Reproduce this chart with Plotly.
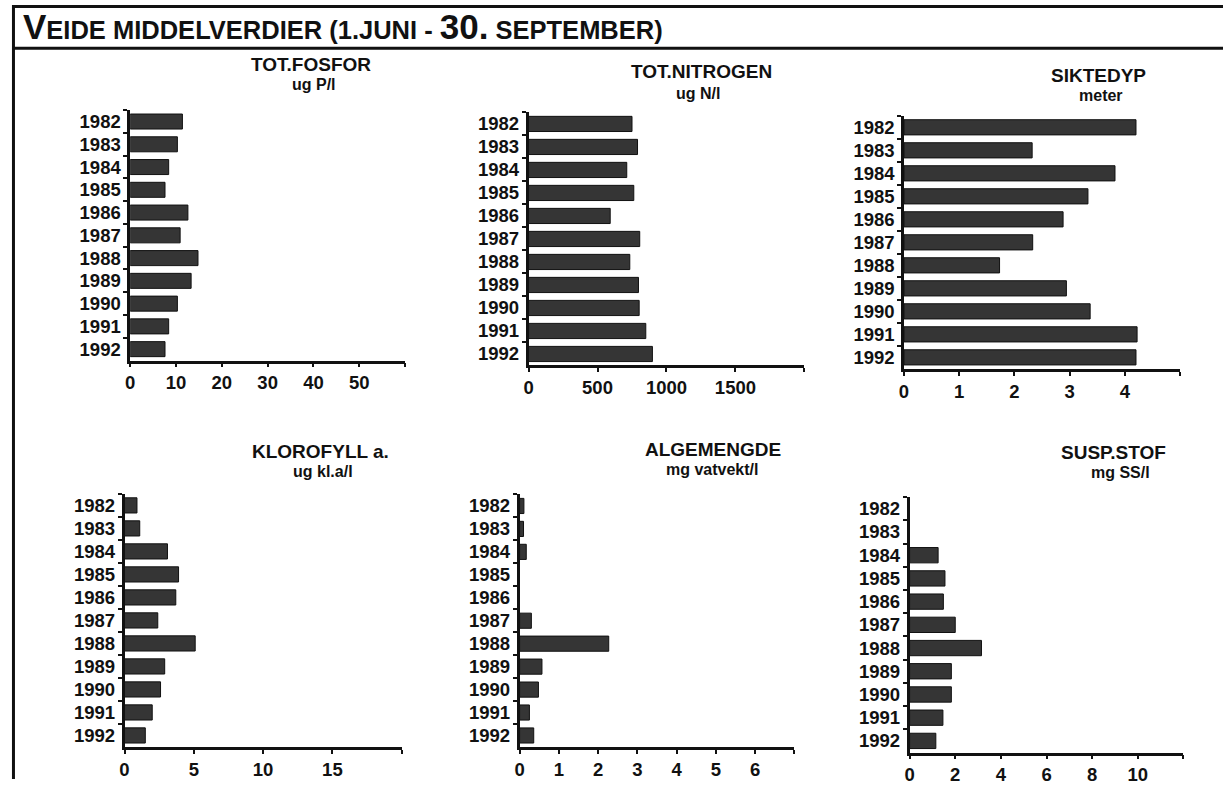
import plotly.graph_objects as go

# Measured summer means (1 June - 30 September), one value per year
years = ["1982", "1983", "1984", "1985", "1986", "1987", "1988", "1989", "1990", "1991", "1992"]

tot_fosfor = [11.4, 10.3, 8.4, 7.6, 12.6, 10.9, 14.8, 13.3, 10.3, 8.4, 7.6]          # ug P/l
tot_nitrogen = [750, 790, 712, 763, 592, 806, 734, 797, 802, 850, 898]              # ug N/l
siktedyp = [4.2, 2.32, 3.82, 3.33, 2.88, 2.33, 1.73, 2.94, 3.37, 4.22, 4.2]         # meter
klorofyll = [0.9, 1.1, 3.1, 3.9, 3.7, 2.4, 5.1, 2.9, 2.6, 2.0, 1.5]                 # ug kl.a/l
algemengde = [0.11, 0.1, 0.17, None, None, 0.3, 2.27, 0.57, 0.48, 0.25, 0.36]       # mg vatvekt/l
susp_stof = [None, None, 1.25, 1.55, 1.48, 2.0, 3.15, 1.83, 1.83, 1.46, 1.15]       # mg SS/l

titles = ["TOT.FOSFOR", "TOT.NITROGEN", "SIKTEDYP", "KLOROFYLL a.", "ALGEMENGDE", "SUSP.STOF"]
units = ["ug P/l", "ug N/l", "meter", "ug kl.a/l", "mg vatvekt/l", "mg SS/l"]
series = [tot_fosfor, tot_nitrogen, siktedyp, klorofyll, algemengde, susp_stof]

x_ticks = [
    [0, 10, 20, 30, 40, 50, 60],
    [0, 500, 1000, 1500, 2000],
    [0, 1, 2, 3, 4, 5],
    [0, 5, 10, 15, 20],
    [0, 1, 2, 3, 4, 5, 6, 7],
    [0, 2, 4, 6, 8, 10, 12],
]

W, H = 1223, 785

# pixel boxes of each plot area: (left, right, top, bottom)
boxes = [
    (125.7, 401.7, 111.0, 363.3),
    (525.7, 802.7, 113.3, 368.3),
    (902.7, 1180.0, 116.7, 371.7),
    (120.0, 398.3, 497.7, 752.7),
    (516.7, 792.7, 498.3, 752.7),
    (908.3, 1183.3, 501.0, 758.3),
]
# title positions in pixels: (x1, y1, x2, y2)
title_pos = [
    (307, 65, 310, 85),
    (699, 72, 696, 94),
    (1098, 76, 1101, 96),
    (317, 455, 319, 475),
    (711, 453, 710, 473),
    (1113, 456, 1120, 476),
]

FONT = "Liberation Sans"
INK = "#111111"
fig = go.Figure()

for i in range(6):
    n = i + 1
    xa = "x" if n == 1 else f"x{n}"
    ya = "y" if n == 1 else f"y{n}"
    fig.add_trace(go.Bar(
        x=series[i], y=years, orientation="h",
        xaxis=xa, yaxis=ya,
        marker=dict(color="#353535", line=dict(color=INK, width=1)),
        showlegend=False,
    ))
    l, r, t, b = boxes[i]
    tv = x_ticks[i]
    tt = [str(v) for v in tv[:-1]] + [""]
    tick_font = dict(family=FONT, size=18.5, color=INK, weight="bold")
    fig.update_layout(**{
        f"xaxis{'' if n == 1 else n}": dict(
            domain=[l / W, r / W], anchor=ya, range=[0, tv[-1]],
            tickmode="array", tickvals=tv, ticktext=tt,
            ticks="outside", ticklen=4, tickwidth=2, tickcolor=INK,
            showline=True, linecolor=INK, linewidth=2.5,
            showgrid=False, zeroline=False, fixedrange=True,
            tickfont=tick_font,
        ),
        f"yaxis{'' if n == 1 else n}": dict(
            domain=[1 - b / H, 1 - t / H], anchor=xa, type="category",
            categoryorder="array", categoryarray=years, autorange="reversed",
            tickmode="linear", tick0=0, dtick=1,
            tickson="boundaries", ticks="outside", ticklen=4, tickwidth=2, tickcolor=INK,
            ticklabelstandoff=3,
            showline=True, linecolor=INK, linewidth=2.5,
            showgrid=False, zeroline=False, fixedrange=True,
            tickfont=tick_font,
        ),
    })
    x1, y1, x2, y2 = title_pos[i]
    fig.add_annotation(x=x1 / W, y=1 - y1 / H, xref="paper", yref="paper",
                       text=titles[i], showarrow=False, xanchor="center", yanchor="middle",
                       font=dict(family=FONT, size=19, color=INK, weight="bold"))
    fig.add_annotation(x=x2 / W, y=1 - y2 / H, xref="paper", yref="paper",
                       text=units[i], showarrow=False, xanchor="center", yanchor="middle",
                       font=dict(family=FONT, size=16, color=INK, weight="bold"))

# heading in small caps
big = "font-size:35px"
heading = (f"<span style='{big}'>V</span>EIDE MIDDELVERDIER (1.JUNI - "
           f"<span style='{big}'>30.</span> SEPTEMBER)")
fig.add_annotation(x=16 / W, y=1 - 27 / H, xref="paper", yref="paper",
                   text=heading, showarrow=False, xanchor="left", yanchor="middle",
                   font=dict(family=FONT, size=25.5, color=INK, weight="bold"))

# frame around the page and the heading box
frame = dict(color=INK, width=3)
fig.add_shape(type="line", xref="paper", yref="paper", x0=8 / W, x1=1, y0=1 - 6.5 / H, y1=1 - 6.5 / H, line=frame)
fig.add_shape(type="line", xref="paper", yref="paper", x0=8 / W, x1=1, y0=1 - 48.5 / H, y1=1 - 48.5 / H, line=frame)
fig.add_shape(type="line", xref="paper", yref="paper", x0=8.5 / W, x1=8.5 / W, y0=0, y1=1 - 5 / H, line=frame)

fig.update_layout(
    width=W, height=H, margin=dict(l=0, r=0, t=0, b=0),
    paper_bgcolor="white", plot_bgcolor="white",
    bargap=0.34,
)

fig.write_html("out.html")
